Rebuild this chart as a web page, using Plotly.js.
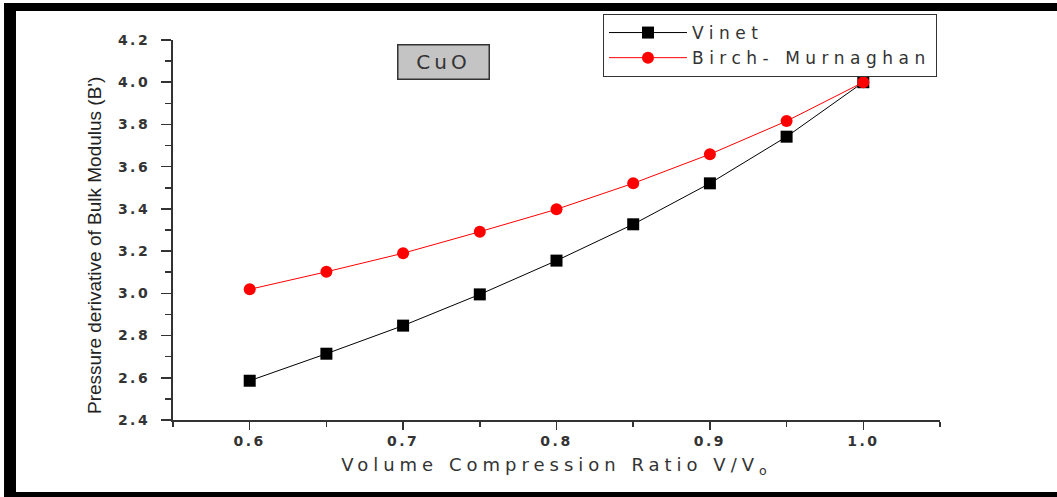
<!DOCTYPE html>
<html>
<head>
<meta charset="utf-8">
<script src="https://cdn.plot.ly/plotly-3.0.1.min.js"></script>
<style>
  html, body { margin: 0; padding: 0; background: #fff; }
  #chart { width: 1057px; height: 497px; }
  .xtick text, .ytick text { letter-spacing: 2.5px; }
  .xtitle { letter-spacing: 5px; }
  .legendtext { letter-spacing: 5.5px; }
  .annotation[data-index="1"] text { letter-spacing: 4px; }
</style>
</head>
<body>
<div id="chart"></div>
<script>
// Volume compression ratio V/V0
const ratio = [0.60, 0.65, 0.70, 0.75, 0.80, 0.85, 0.90, 0.95, 1.00];

// Pressure derivative of the bulk modulus B' for CuO
const vinet = [2.586, 2.714, 2.847, 2.995, 3.155, 3.327, 3.521, 3.742, 4.00];
const birchMurnaghan = [3.019, 3.102, 3.190, 3.292, 3.398, 3.521, 3.659, 3.816, 4.00];

const seriesNames = ['Vinet', 'Birch- Murnaghan'];
const xTicks = [0.6, 0.7, 0.8, 0.9, 1.0];
const xTickText = ['0.6', '0.7', '0.8', '0.9', '1.0'];
const yTicks = [2.4, 2.6, 2.8, 3.0, 3.2, 3.4, 3.6, 3.8, 4.0, 4.2];
const yTickText = ['2.4', '2.6', '2.8', '3.0', '3.2', '3.4', '3.6', '3.8', '4.0', '4.2'];

const axisColor = '#333333';
const tickFont = { family: 'DejaVu Sans', size: 14, color: '#333333', weight: 'bold' };

const traces = [
  {
    x: ratio, y: vinet, name: seriesNames[0],
    type: 'scatter', mode: 'lines+markers',
    line: { color: '#000000', width: 1 },
    marker: { symbol: 'square', size: 12, color: '#000000' }
  },
  {
    x: ratio, y: birchMurnaghan, name: seriesNames[1],
    type: 'scatter', mode: 'lines+markers',
    line: { color: '#ff0000', width: 1 },
    marker: { symbol: 'circle', size: 12, color: '#ff0000' }
  }
];

// black frame bands along the top, left and bottom edges
const band = (x0, x1, y0, y1) => ({
  type: 'rect', xref: 'paper', yref: 'paper', x0, x1, y0, y1,
  fillcolor: '#000000', line: { width: 0 }, layer: 'above'
});

const layout = {
  width: 1057, height: 497,
  margin: { l: 173, r: 117, t: 40, b: 77 },
  paper_bgcolor: '#ffffff', plot_bgcolor: '#ffffff',
  showlegend: true,
  xaxis: {
    range: [0.55, 1.05],
    tickvals: xTicks, ticktext: xTickText,
    ticks: 'outside', ticklen: 8, tickwidth: 1.5, tickcolor: axisColor,
    minor: { dtick: 0.05, tick0: 0.55, ticks: 'outside', ticklen: 5, tickwidth: 1.5, tickcolor: axisColor },
    showline: true, linecolor: axisColor, linewidth: 1.5,
    showgrid: false, zeroline: false,
    tickfont: tickFont,
    title: {
      text: 'Volume Compression Ratio V/V<sub>o</sub>',
      font: { family: 'DejaVu Sans', size: 18, color: '#333333' },
      standoff: 10
    }
  },
  yaxis: {
    range: [2.4, 4.2],
    tickvals: yTicks, ticktext: yTickText,
    ticks: 'outside', ticklen: 10, tickwidth: 1.5, tickcolor: axisColor,
    minor: { dtick: 0.1, tick0: 2.4, ticks: 'outside', ticklen: 6, tickwidth: 1.5, tickcolor: axisColor },
    showline: true, linecolor: axisColor, linewidth: 2,
    showgrid: false, zeroline: false,
    tickfont: tickFont,
    ticklabelstandoff: 8
  },
  legend: {
    x: 0.5606, y: 1.0684, xanchor: 'left', yanchor: 'top',
    bgcolor: 'rgba(255,255,255,0)', bordercolor: '#333333', borderwidth: 1,
    font: { family: 'DejaVu Sans', size: 17, color: '#333333' },
    itemwidth: 78, tracegroupgap: 0
  },
  annotations: [
    {
      text: "Pressure derivative of Bulk Modulus (B')",
      xref: 'paper', yref: 'paper', x: -0.103, y: 0.4605,
      xanchor: 'center', yanchor: 'middle', textangle: -90, showarrow: false,
      font: { family: 'Liberation Sans', size: 19, color: '#222222' }
    },
    {
      text: 'CuO',
      xref: 'paper', yref: 'paper', x: 0.3533, y: 0.9408,
      xanchor: 'center', yanchor: 'middle', showarrow: false,
      width: 88, height: 31, borderpad: 1,
      bgcolor: '#c4c4c4', bordercolor: '#333333', borderwidth: 1.5,
      font: { family: 'DejaVu Sans', size: 20, color: '#333333' }
    }
  ],
  shapes: [
    band(-0.2203, 1.16, 1.0763, 1.0974),
    band(-0.2203, -0.2047, -0.21, 1.0974),
    band(-0.2203, 1.16, -0.21, -0.1895)
  ]
};

Plotly.newPlot('chart', traces, layout, { staticPlot: true, displayModeBar: false });
</script>
</body>
</html>
